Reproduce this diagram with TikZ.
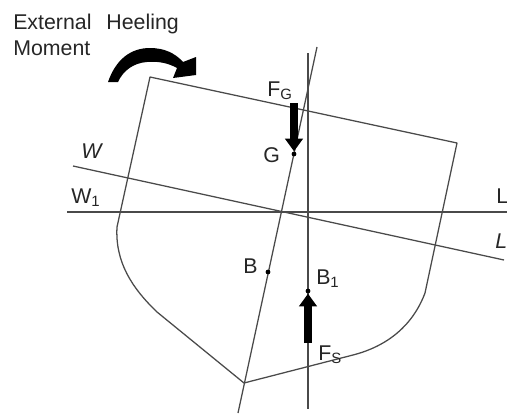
\documentclass[tikz,border=0pt]{standalone}
\usepackage{fontspec}
\setmainfont{Liberation Sans}
\usepackage{tikz}
\usetikzlibrary{arrows.meta,calc,positioning}
\definecolor{hull}{HTML}{4A4A4A}
\tikzset{
  line/.style={draw=hull,line width=0.95pt},
  force/.style={line width=5.6pt,-{Triangle[length=9.5pt,width=13pt]}},
  lbl/.style={font=\fontsize{16}{16}\selectfont,inner sep=0pt,text=black!85},
  pointdot/.style={circle,fill=black,inner sep=0pt,minimum size=3.6pt}
}
\begin{document}
\begin{tikzpicture}[x=0.75pt,y=-0.75pt]
  \useasboundingbox (0,0) rectangle (507,414);
  % hull outline
  \draw[line,line join=round] (150,77) -- (457,143) -- (425,293)
    .. controls (413,325) and (388,346) .. (353,355)
    -- (244,383) -- (157,312)
    .. controls (132,288) and (115,262) .. (117,227) -- cycle;
  % waterlines and centre lines
  \coordinate (wl) at (73,166);
  \coordinate (wr) at (504,260);
  \coordinate (wa) at (67,212);
  \coordinate (wb) at (507,212);
  \coordinate (ct) at (317,47);
  \coordinate (cb) at (238,413);
  \coordinate (vt) at (308,53);
  \coordinate (vb) at (308,409);
  \draw[line] (wl) -- (wr);
  \draw[line] (wa) -- (wb);
  \draw[line] (ct) -- (cb);
  \draw[line] (vt) -- (vb);
  % points
  \node[pointdot] (G) at (294,154) {};
  \node[pointdot] (B) at (268,272) {};
  \node[pointdot] (Bone) at (308,291) {};
  % forces
  \coordinate (fgs) at (294,103);
  \coordinate (fss) at (308,343);
  \draw[force] (fgs) -- (G);
  \draw[force] (fss) -- (Bone);
  % heeling moment
  \fill (108,82) .. controls (116,59) and (131,48) .. (150,48)
    .. controls (164,48) and (175,53) .. (183,62)
    -- (196,57) -- (196,75) -- (173,78) -- (177,68)
    .. controls (168,63) and (158,61) .. (147,62)
    .. controls (133,63) and (123,71) .. (118,82) -- cycle;
  % labels
  \node[lbl,anchor=base west] (ext) at (13,29) {External\hspace{0.7em}Heeling};
  \node[lbl,anchor=base west] (mom) at (13,55) {Moment};
  \node[lbl,anchor=base west] (fg) at (267,96) {F\textsubscript{G}};
  \node[lbl,anchor=base west] (glab) at (263,162) {G};
  \node[lbl,anchor=base west] (w) at (81,158) {\textit{W}};
  \node[lbl,anchor=base west] (wone) at (71,203) {W\textsubscript{1}};
  \node[lbl,anchor=base west] (l) at (496,203) {L};
  \node[lbl,anchor=base west] (lit) at (495,248) {\textit{L}};
  \node[lbl,anchor=base west] (blab) at (243,273) {B};
  \node[lbl,anchor=base west] (bone) at (316,284) {B\textsubscript{1}};
  \node[lbl,anchor=base west] (fs) at (318,360) {F\textsubscript{S}};
\end{tikzpicture}
\end{document}
